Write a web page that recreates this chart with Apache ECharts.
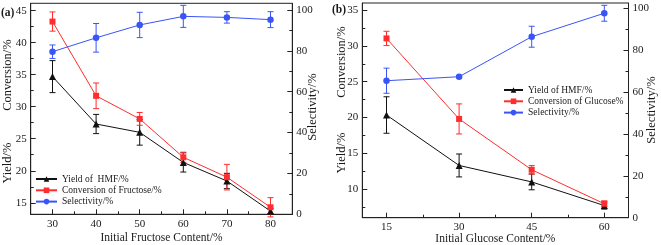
<!DOCTYPE html>
<html>
<head>
<meta charset="utf-8">
<script src="https://cdn.jsdelivr.net/npm/echarts@6/dist/echarts.min.js"></script>
<style>html,body{margin:0;padding:0;background:#fff;}#c{width:661px;height:245px;}</style>
</head>
<body>
<div id="c"></div>
<script>
// ---------- data (panel a) ----------
const xA = [30, 40, 50, 60, 70, 80];
const yieldA = [34.7, 27.3, 26.0, 21.3, 18.4, 13.7];
const yieldAErr = [2.5, 1.5, 2.0, 1.5, 1.2, 0.4];
const convA = [43.3, 31.7, 28.1, 22.1, 19.0, 14.3];
const convAErr = [1.5, 2.0, 1.0, 0.8, 2.0, 1.5];
const selA = [79.6, 86.4, 92.7, 96.9, 96.4, 95.3];
const selAErr = [3.3, 7.0, 6.2, 5.4, 2.8, 3.9];
// ---------- data (panel b) ----------
const xB = [15, 30, 45, 60];
const yieldB = [20.35, 13.3, 11.0, 7.7];
const yieldBErr = [2.55, 1.6, 1.1, 0.5];
const convB = [31.05, 19.8, 12.7, 7.95];
const convBErr = [1.0, 2.1, 0.6, 0.4];
const selB = [65.4, 67.3, 86.4, 97.6];
const selBErr = [6.0, 0.5, 5.0, 3.8];
// ---------- tick labels ----------
const xTicksA = [30, 40, 50, 60, 70, 80];
const xMinorA = [35, 45, 55, 65, 75];
const leftTicksA = [15, 20, 25, 30, 35, 40, 45];
const leftMinorA = [17.5, 22.5, 27.5, 32.5, 37.5, 42.5];
const rightTicks = [0, 20, 40, 60, 80, 100];
const rightMinor = [10, 30, 50, 70, 90];
const xTicksB = [15, 30, 45, 60];
const xMinorB = [22.5, 37.5, 52.5];
const leftTicksB = [10, 15, 20, 25, 30, 35];
const leftMinorB = [7.5, 12.5, 17.5, 22.5, 27.5, 32.5];

const FONT = 'Liberation Serif';
const TXT = '#1a1a1a';
const AX = '#222';
const BLACK = '#111', RED = '#ff2d2d', BLUE = '#3a55f5';

function mainAxis(o) {
  return Object.assign({
    type: 'value',
    axisLine: { show: true, onZero: false, lineStyle: { color: AX, width: 1 } },
    axisTick: { show: true, inside: true, length: 5, lineStyle: { color: AX }, customValues: o.ticks },
    axisLabel: { show: true, margin: 4, color: TXT, fontFamily: FONT, fontSize: 11, customValues: o.ticks },
    splitLine: { show: false }
  }, o.extra);
}
function minorAxis(o) {
  return Object.assign({
    type: 'value',
    axisLine: { show: false, onZero: false },
    axisTick: { show: true, inside: true, length: 3, lineStyle: { color: AX }, customValues: o.ticks },
    axisLabel: { show: false },
    splitLine: { show: false }
  }, o.extra);
}
function pts(xs, v) { return xs.map((x, i) => [x, v[i]]); }
function errs(xs, v, e) { return xs.map((x, i) => [x, v[i] - e[i], v[i] + e[i]]); }
function errSeries(xs, v, e, color, xi, yi) {
  return {
    type: 'custom', name: 'err', xAxisIndex: xi, yAxisIndex: yi, silent: true,
    data: errs(xs, v, e), encode: { x: 0, y: [1, 2] }, z: 1,
    renderItem: function (params, api) {
      const x = api.value(0);
      const p1 = api.coord([x, api.value(2)]);
      const p2 = api.coord([x, api.value(1)]);
      const w = 3;
      const st = { stroke: color, lineWidth: 1 };
      return {
        type: 'group', children: [
          { type: 'line', shape: { x1: p1[0], y1: p1[1], x2: p2[0], y2: p2[1] }, style: st },
          { type: 'line', shape: { x1: p1[0] - w, y1: p1[1], x2: p1[0] + w, y2: p1[1] }, style: st },
          { type: 'line', shape: { x1: p2[0] - w, y1: p2[1], x2: p2[0] + w, y2: p2[1] }, style: st }
        ]
      };
    }
  };
}
function lineSeries(name, xs, v, color, symbol, size, xi, yi) {
  return {
    type: 'line', name: name, xAxisIndex: xi, yAxisIndex: yi, data: pts(xs, v),
    symbol: symbol, symbolSize: size, showSymbol: true, z: 3,
    lineStyle: { color: color, width: 1 }, itemStyle: { color: color }
  };
}

const option = {
  animation: false,
  backgroundColor: '#fff',
  grid: [
    { left: 30.7, right: 368.7, top: 3.3, bottom: 30.7, show: true, borderColor: AX, borderWidth: 1, outerBoundsMode: 'none', containLabel: false },
    { left: 362.3, right: 32.5, top: 3, bottom: 27.3, show: true, borderColor: AX, borderWidth: 1, outerBoundsMode: 'none', containLabel: false }
  ],
  xAxis: [
    mainAxis({ ticks: xTicksA, extra: { gridIndex: 0, min: 25, max: 85, position: 'bottom',
      name: 'Initial Fructose Content/%', nameLocation: 'middle', nameGap: 18, nameMoveOverlap: false,
      nameTextStyle: { color: TXT, fontFamily: FONT, fontSize: 11.5 } } }),
    minorAxis({ ticks: xMinorA, extra: { gridIndex: 0, min: 25, max: 85, position: 'bottom' } }),
    mainAxis({ ticks: xTicksB, extra: { gridIndex: 1, min: 10, max: 65, position: 'bottom',
      name: 'Initial Glucose Content/%', nameLocation: 'middle', nameGap: 15, nameMoveOverlap: false,
      nameTextStyle: { color: TXT, fontFamily: FONT, fontSize: 11.5 } } }),
    minorAxis({ ticks: xMinorB, extra: { gridIndex: 1, min: 10, max: 65, position: 'bottom' } })
  ],
  yAxis: [
    mainAxis({ ticks: leftTicksA, extra: { gridIndex: 0, min: 13.2, max: 46.15, position: 'left' } }),
    minorAxis({ ticks: leftMinorA, extra: { gridIndex: 0, min: 13.2, max: 46.15, position: 'left' } }),
    mainAxis({ ticks: rightTicks, extra: { gridIndex: 0, min: 0, max: 103.3, position: 'right' } }),
    minorAxis({ ticks: rightMinor, extra: { gridIndex: 0, min: 0, max: 103.3, position: 'right' } }),
    mainAxis({ ticks: leftTicksB, extra: { gridIndex: 1, min: 6, max: 36, position: 'left' } }),
    minorAxis({ ticks: leftMinorB, extra: { gridIndex: 1, min: 6, max: 36, position: 'left' } }),
    mainAxis({ ticks: rightTicks, extra: { gridIndex: 1, min: 0, max: 102.5, position: 'right' } }),
    minorAxis({ ticks: rightMinor, extra: { gridIndex: 1, min: 0, max: 102.5, position: 'right' } })
  ],
  legend: [
    {
      orient: 'vertical', left: 35, top: 173.5, padding: 0, itemWidth: 21, itemHeight: 7, itemGap: 0.3,
      textStyle: { color: TXT, fontFamily: FONT, fontSize: 9.5, lineHeight: 11 },
      data: ['Yield of  HMF/%', 'Conversion of Fructose/%', 'Selectivity/%']
    },
    {
      orient: 'vertical', left: 503, top: 84.5, padding: 0, itemWidth: 19, itemHeight: 7, itemGap: 0.3,
      textStyle: { color: TXT, fontFamily: FONT, fontSize: 9.5, lineHeight: 11 },
      data: ['Yield of HMF/%', 'Conversion of Glucose%', 'Selectivity/%']
    }
  ],
  graphic: [
    { type: 'text', x: 1, y: 13, style: { text: '(a)', font: 'bold 11.5px "Liberation Serif"', fill: TXT, textAlign: 'left', textVerticalAlign: 'middle' } },
    { type: 'text', x: 332, y: 10, style: { text: '(b)', font: 'bold 11.5px "Liberation Serif"', fill: TXT, textAlign: 'left', textVerticalAlign: 'middle' } },
    { type: 'text', x: 8, y: 75, rotation: Math.PI / 2, style: { text: 'Conversion/%', font: '12.5px "Liberation Serif"', fill: TXT, textAlign: 'center', textVerticalAlign: 'middle' } },
    { type: 'text', x: 8, y: 163, rotation: Math.PI / 2, style: { text: 'Yield/%', font: '12.5px "Liberation Serif"', fill: TXT, textAlign: 'center', textVerticalAlign: 'middle' } },
    { type: 'text', x: 313, y: 107, rotation: Math.PI / 2, style: { text: 'Selectivity/%', font: '12.5px "Liberation Serif"', fill: TXT, textAlign: 'center', textVerticalAlign: 'middle' } },
    { type: 'text', x: 341.5, y: 62, rotation: Math.PI / 2, style: { text: 'Conversion/%', font: '12.5px "Liberation Serif"', fill: TXT, textAlign: 'center', textVerticalAlign: 'middle' } },
    { type: 'text', x: 341.5, y: 153, rotation: Math.PI / 2, style: { text: 'Yield/%', font: '12.5px "Liberation Serif"', fill: TXT, textAlign: 'center', textVerticalAlign: 'middle' } },
    { type: 'text', x: 652, y: 110, rotation: Math.PI / 2, style: { text: 'Selectivity/%', font: '12.5px "Liberation Serif"', fill: TXT, textAlign: 'center', textVerticalAlign: 'middle' } }
  ],
  series: [
    errSeries(xA, yieldA, yieldAErr, BLACK, 0, 0),
    errSeries(xA, convA, convAErr, RED, 0, 0),
    errSeries(xA, selA, selAErr, BLUE, 0, 2),
    lineSeries('Yield of  HMF/%', xA, yieldA, BLACK, 'triangle', 7, 0, 0),
    lineSeries('Conversion of Fructose/%', xA, convA, RED, 'rect', 6, 0, 0),
    lineSeries('Selectivity/%', xA, selA, BLUE, 'circle', 6.5, 0, 2),
    errSeries(xB, yieldB, yieldBErr, BLACK, 2, 4),
    errSeries(xB, convB, convBErr, RED, 2, 4),
    errSeries(xB, selB, selBErr, BLUE, 2, 6),
    lineSeries('Yield of HMF/%', xB, yieldB, BLACK, 'triangle', 7, 2, 4),
    lineSeries('Conversion of Glucose%', xB, convB, RED, 'rect', 6, 2, 4),
    lineSeries('Selectivity/%', xB, selB, BLUE, 'circle', 6.5, 2, 6)
  ]
};
const chart = echarts.init(document.getElementById('c'), null, { renderer: 'canvas' });
chart.setOption(option);
</script>
</body>
</html>
